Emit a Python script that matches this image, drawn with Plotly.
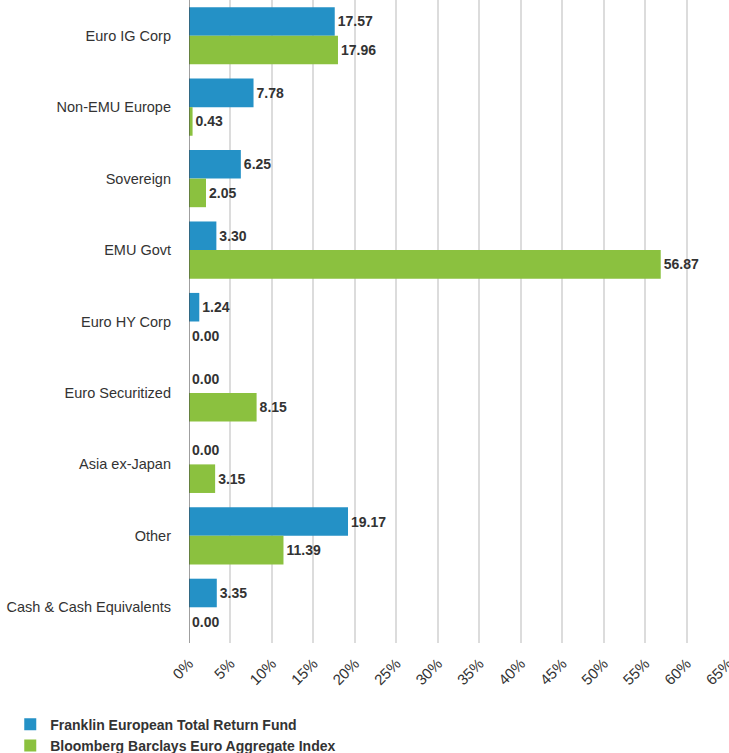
import plotly.graph_objects as go

categories = ["Euro IG Corp", "Non-EMU Europe", "Sovereign", "EMU Govt", "Euro HY Corp",
              "Euro Securitized", "Asia ex-Japan", "Other", "Cash & Cash Equivalents"]
fund_values = [17.57, 7.78, 6.25, 3.30, 1.24, 0.00, 0.00, 19.17, 3.35]
index_values = [17.96, 0.43, 2.05, 56.87, 0.00, 8.15, 3.15, 11.39, 0.00]
fund_name = "Franklin European Total Return Fund"
index_name = "Bloomberg Barclays Euro Aggregate Index"
tick_values = list(range(0, 70, 5))
tick_labels = [f"{v}%" for v in tick_values]

FONT = "Liberation Sans, Arial, sans-serif"
TXT = "#333333"

fig = go.Figure()
fig.add_trace(go.Bar(
    y=categories, x=fund_values, orientation="h", name=fund_name,
    marker=dict(color="#2491C6", line=dict(width=0)),
    text=[f"{v:.2f}" for v in fund_values], textposition="outside",
    textfont=dict(family=FONT, size=14, color=TXT, weight="bold"),
    cliponaxis=False, hoverinfo="skip",
))
fig.add_trace(go.Bar(
    y=categories, x=index_values, orientation="h", name=index_name,
    marker=dict(color="#8BC13F", line=dict(width=0)),
    text=[f"{v:.2f}" for v in index_values], textposition="outside",
    textfont=dict(family=FONT, size=14, color=TXT, weight="bold"),
    cliponaxis=False, hoverinfo="skip",
))

fig.update_layout(
    width=729, height=753,
    margin=dict(l=189, r=0, t=0, b=110, autoexpand=False),
    paper_bgcolor="white", plot_bgcolor="white",
    barmode="group", bargap=0.2, bargroupgap=0,
    font=dict(family=FONT, color=TXT),
    showlegend=True,
    legend=dict(
        x=-0.331, xanchor="left", y=-0.102, yanchor="top",
        orientation="v", font=dict(family=FONT, size=14, color=TXT, weight="bold"),
        tracegroupgap=0, itemclick=False,
    ),
    xaxis=dict(
        range=[0, 65.1], tickvals=tick_values, ticktext=tick_labels, tickangle=-45,
        showgrid=True, gridcolor="#dcdcdc", gridwidth=1.5,
        zeroline=False, showline=False, ticks="", ticklabelstandoff=8,
        ticklabeloverflow="allow",
        tickfont=dict(family=FONT, size=15, color=TXT),
        automargin=False, fixedrange=True,
    ),
    yaxis=dict(
        autorange="reversed", showgrid=False, zeroline=False,
        showline=False, ticks="", ticklabelstandoff=17,
        tickfont=dict(family=FONT, size=14.5, color=TXT),
        automargin=False, fixedrange=True,
    ),
    shapes=[dict(type="line", xref="x", yref="paper", x0=0, x1=0, y0=0, y1=1,
                 line=dict(color="#404040", width=1))],
)

fig.write_html("out.html", config={"displayModeBar": False},
               post_script="document.body.style.margin='0';")
